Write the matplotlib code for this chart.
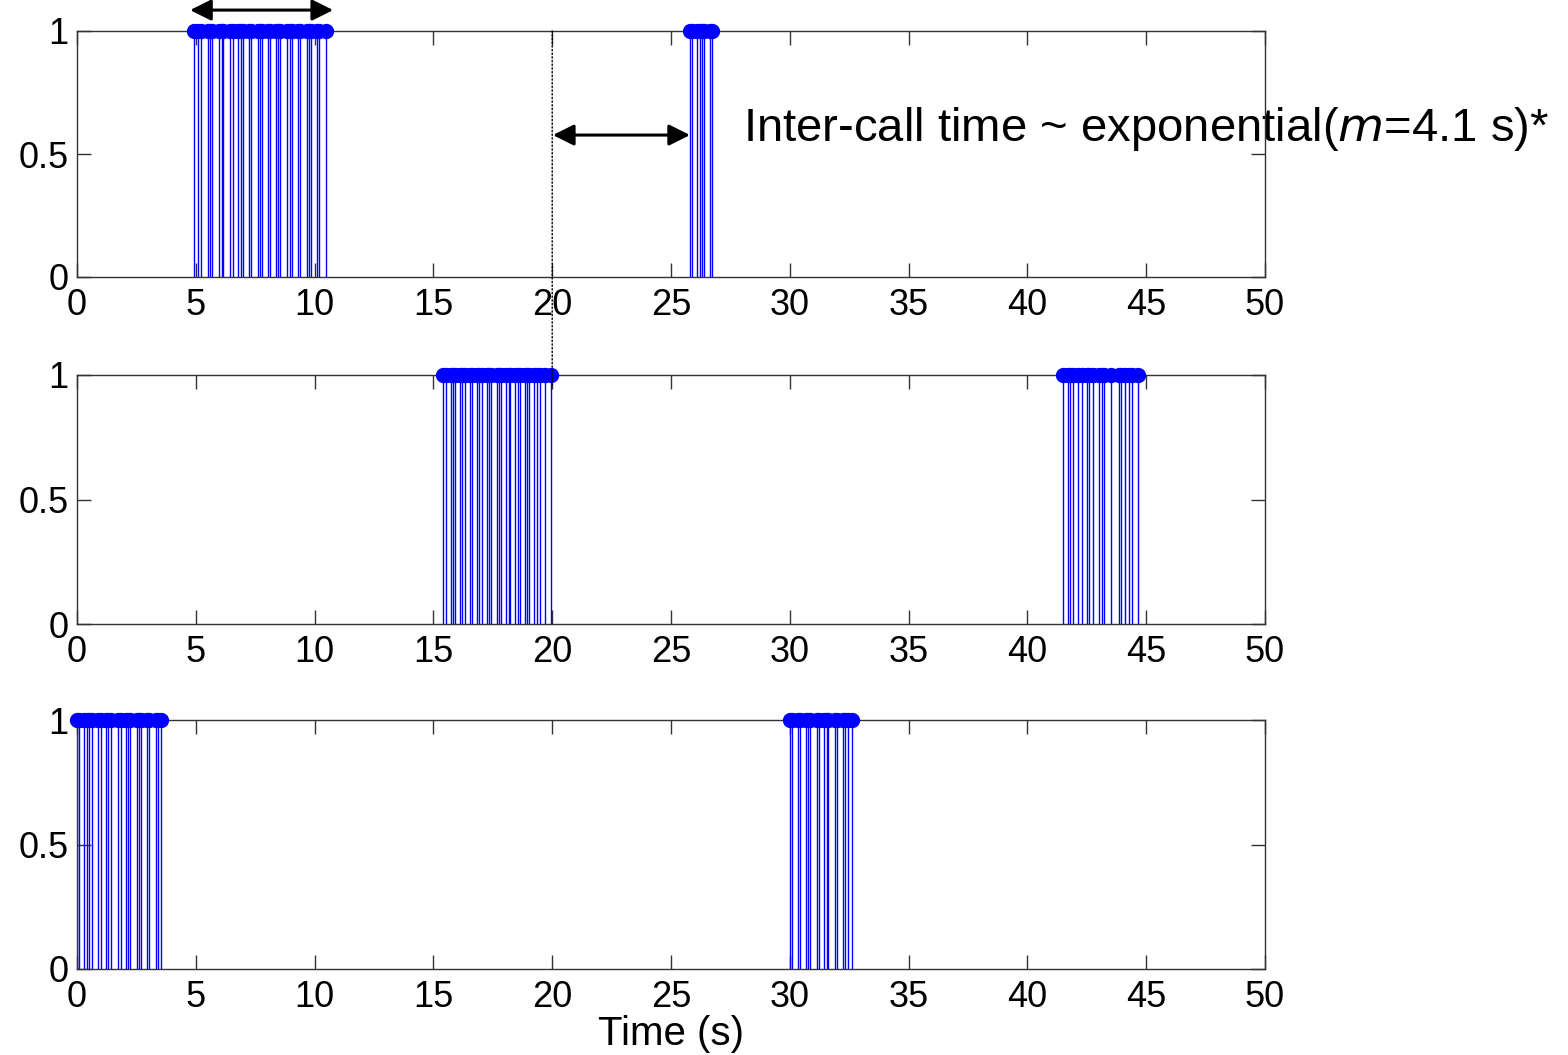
import numpy as np
import matplotlib
matplotlib.use("Agg")
import matplotlib.pyplot as plt
from matplotlib.patches import ConnectionPatch

plt.rcParams['font.family'] = ['Liberation Sans', 'DejaVu Sans']

# stem times (s), one list per user, every value = 1
user1_t = [4.92, 5.11, 5.20, 5.50, 5.60, 5.70, 5.98, 6.09, 6.16, 6.45, 6.55, 6.79,
           6.89, 6.97, 7.24, 7.32, 7.60, 7.70, 7.80, 8.05, 8.14, 8.39, 8.47, 8.54,
           8.85, 8.95, 9.05, 9.30, 9.39, 9.67, 9.75, 9.85, 10.11, 10.20, 10.47,
           25.80, 25.87, 26.10, 26.22, 26.31, 26.40, 26.64, 26.73]
user2_t = [15.42, 15.52, 15.73, 15.81, 15.91, 16.12, 16.22, 16.33, 16.54, 16.64,
           16.82, 16.92, 17.03, 17.24, 17.35, 17.42, 17.66, 17.76, 17.85, 18.06,
           18.17, 18.24, 18.45, 18.55, 18.64, 18.86, 18.95, 19.04, 19.25, 19.35,
           19.49, 19.70, 19.94,
           41.51, 41.72, 41.79, 41.93, 42.14, 42.31, 42.52, 42.59, 42.75, 43.03,
           43.13, 43.22, 43.51, 43.86, 43.94, 44.11, 44.29, 44.39, 44.64]
user3_t = [0.01, 0.10, 0.29, 0.41, 0.50, 0.64, 0.90, 1.00, 1.22, 1.32, 1.42, 1.74,
           1.84, 2.05, 2.16, 2.23, 2.51, 2.61, 2.69, 2.93, 3.03, 3.32, 3.42, 3.52,
           30.01, 30.11, 30.33, 30.43, 30.68, 30.78, 30.85, 31.13, 31.23, 31.45,
           31.55, 31.62, 31.90, 32.00, 32.25, 32.32, 32.44, 32.60]

xticks = [0, 5, 10, 15, 20, 25, 30, 35, 40, 45, 50]
yticks = [0, 0.5, 1]
ytick_labels = ['0', '0.5', '1']

fig = plt.figure(figsize=(15.68, 10.55), dpi=100)
W, H = 1568, 1055
boxes = [(77, 31, 277), (77, 375, 624), (77, 720, 969)]
axes = []
for left, top, bottom in boxes:
    ax = fig.add_axes([left / W, 1 - bottom / H, 1188 / W, (bottom - top) / H])
    axes.append(ax)

for ax, t in zip(axes, [user1_t, user2_t, user3_t]):
    markers, stems, base = ax.stem(t, np.ones(len(t)), linefmt='-', markerfmt='o', basefmt=' ')
    stems.set_color('#0000ff')
    stems.set_linewidth(1.0)
    markers.set_color('#0000ff')
    markers.set_markersize(10)
    markers.set_clip_on(False)
    markers.set_zorder(3)
    ax.set_xlim(0, 50)
    ax.set_ylim(0, 1)
    ax.set_xticks(xticks)
    ax.set_yticks(yticks)
    ax.set_yticklabels(ytick_labels)
    ax.tick_params(direction='in', length=10, width=1, top=True, right=True,
                   labelsize=26, colors='#333333', labelcolor='black')
    ax.tick_params(axis='x', pad=8)
    ax.tick_params(axis='y', pad=6)
    for s in ax.spines.values():
        s.set_color('#333333')
        s.set_linewidth(1)

axes[2].set_xlabel('Time (s)', fontsize=29, labelpad=0)

ax1 = axes[0]
# call length arrow on top
ax1.annotate('', xy=(4.76, 1.085), xytext=(10.78, 1.085),
             arrowprops=dict(arrowstyle='<|-|>', color='black', lw=2.2, mutation_scale=32,
                             shrinkA=0, shrinkB=0),
             annotation_clip=False)
# inter-call arrow
ax1.annotate('', xy=(20.03, 0.577), xytext=(25.8, 0.577),
             arrowprops=dict(arrowstyle='<|-|>', color='black', lw=2.2, mutation_scale=32,
                             shrinkA=0, shrinkB=0),
             annotation_clip=False)
ax1.text(28.05, 0.6, 'Inter-call time ~ exponential($\\mathit{m}$=4.1 s)*', fontsize=34,
         va='center', ha='left', clip_on=False, zorder=2)

con = ConnectionPatch(xyA=(20, 1), coordsA=ax1.transData,
                      xyB=(20, 0.96), coordsB=axes[1].transData,
                      color='black', lw=1, linestyle=':')
fig.add_artist(con)

fig.savefig('out.png', dpi=100)
